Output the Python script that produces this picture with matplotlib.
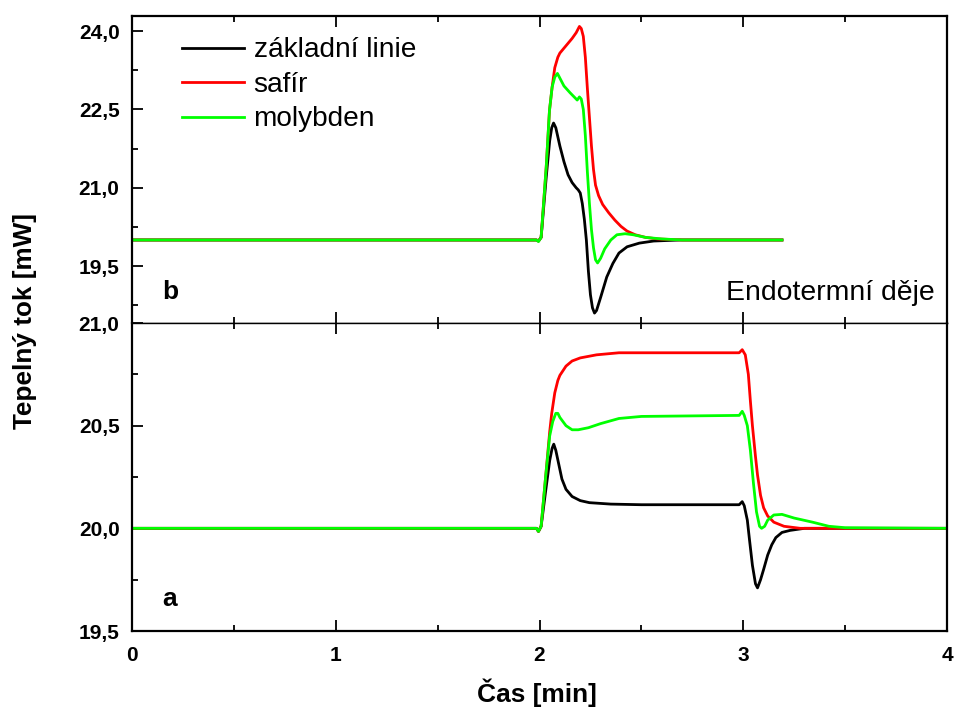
"""Two-panel DSC trace: heat flow for baseline, sapphire and molybdenum."""

import matplotlib

matplotlib.use("Agg")
import matplotlib.pyplot as plt
from matplotlib.ticker import FuncFormatter, MultipleLocator

plt.rcParams["font.family"] = ["Liberation Sans", "DejaVu Sans"]

BLACK = "#000000"
RED = "#ff0000"
GREEN = "#00ff00"

# panel b (top): endothermic events, time [min] / heat flow [mW]
b_base_t = [0, 1.985, 1.995, 2.008, 2.033, 2.05, 2.06, 2.069, 2.08, 2.1, 2.12, 2.14,
            2.16, 2.18, 2.19, 2.2, 2.21, 2.22, 2.23, 2.24, 2.25, 2.26, 2.27, 2.28,
            2.3, 2.33, 2.36, 2.39, 2.43, 2.49, 2.56, 2.69, 3.19]
b_base_v = [20.0, 20.0, 19.98, 20.05, 21.2, 21.9, 22.15, 22.24, 22.15, 21.8, 21.5, 21.25,
            21.1, 21.0, 20.96, 20.9, 20.7, 20.4, 20.0, 19.4, 18.95, 18.7, 18.6, 18.65,
            18.9, 19.29, 19.55, 19.75, 19.87, 19.94, 19.98, 20.0, 20.0]

b_saf_t = [0, 1.985, 1.995, 2.008, 2.033, 2.049, 2.062, 2.075, 2.09, 2.1, 2.13, 2.16,
           2.18, 2.196, 2.205, 2.215, 2.225, 2.235, 2.245, 2.255, 2.265, 2.275, 2.29,
           2.31, 2.34, 2.37, 2.4, 2.43, 2.47, 2.52, 2.58, 2.7, 3.19]
b_saf_v = [20.0, 20.0, 19.98, 20.05, 21.4, 22.48, 22.93, 23.3, 23.5, 23.58, 23.72, 23.86,
           23.97, 24.09, 24.05, 23.9, 23.5, 22.9, 22.35, 21.8, 21.35, 21.05, 20.85,
           20.68, 20.52, 20.38, 20.26, 20.17, 20.1, 20.05, 20.02, 20.0, 20.0]

b_mo_t = [0, 1.985, 1.995, 2.008, 2.033, 2.049, 2.062, 2.075, 2.088, 2.1, 2.12, 2.15,
          2.17, 2.185, 2.196, 2.205, 2.215, 2.225, 2.235, 2.245, 2.255, 2.265, 2.275,
          2.285, 2.3, 2.32, 2.35, 2.38, 2.42, 2.46, 2.52, 2.6, 2.7, 3.19]
b_mo_v = [20.0, 20.0, 19.97, 20.05, 21.4, 22.48, 22.93, 23.12, 23.19, 23.1, 22.95, 22.82,
          22.74, 22.68, 22.74, 22.7, 22.5, 22.0, 21.3, 20.7, 20.2, 19.85, 19.62,
          19.56, 19.65, 19.83, 20.0, 20.1, 20.12, 20.1, 20.05, 20.02, 20.0, 20.0]

# panel a (bottom)
a_base_t = [0, 1.985, 1.995, 2.008, 2.03, 2.05, 2.062, 2.07, 2.08, 2.095, 2.11, 2.13,
            2.16, 2.2, 2.245, 2.35, 2.5, 2.98, 2.995, 3.005, 3.02, 3.03, 3.045, 3.06,
            3.07, 3.085, 3.1, 3.12, 3.14, 3.16, 3.19, 3.23, 3.3, 4.0]
a_base_v = [20.0, 20.0, 19.985, 20.01, 20.18, 20.33, 20.39, 20.41, 20.38, 20.31, 20.24, 20.19,
            20.155, 20.135, 20.125, 20.118, 20.115, 20.115, 20.13, 20.11, 20.04, 19.95, 19.82, 19.73,
            19.71, 19.75, 19.8, 19.87, 19.92, 19.955, 19.98, 19.99, 20.0, 20.0]

a_saf_t = [0, 1.985, 1.995, 2.008, 2.03, 2.05, 2.06, 2.075, 2.09, 2.1, 2.13, 2.16,
           2.2, 2.28, 2.39, 2.98, 2.995, 3.01, 3.025, 3.035, 3.045, 3.06, 3.07,
           3.085, 3.1, 3.12, 3.15, 3.2, 3.28, 4.0]
a_saf_v = [20.0, 20.0, 19.985, 20.01, 20.25, 20.47, 20.56, 20.66, 20.72, 20.745, 20.79, 20.815,
           20.83, 20.845, 20.855, 20.855, 20.87, 20.845, 20.75, 20.62, 20.5, 20.35, 20.26,
           20.16, 20.1, 20.06, 20.03, 20.01, 20.0, 20.0]

a_mo_t = [0, 1.985, 1.995, 2.008, 2.03, 2.05, 2.065, 2.08, 2.09, 2.1, 2.13, 2.16,
          2.19, 2.24, 2.3, 2.39, 2.5, 2.98, 2.995, 3.005, 3.02, 3.035, 3.05, 3.065,
          3.08, 3.09, 3.105, 3.12, 3.15, 3.19, 3.25, 3.34, 3.42, 3.5, 4.0]
a_mo_v = [20.0, 20.0, 19.985, 20.01, 20.25, 20.45, 20.52, 20.56, 20.56, 20.54, 20.5, 20.48,
          20.48, 20.49, 20.51, 20.535, 20.545, 20.55, 20.57, 20.55, 20.5, 20.38, 20.22, 20.08,
          20.01, 20.0, 20.01, 20.04, 20.065, 20.068, 20.05, 20.03, 20.01, 20.003, 20.0]

labels = ["základní linie", "safír", "molybden"]


def comma(v, _pos):
    return f"{v:.1f}".replace(".", ",")


def style(ax, major, minor):
    ax.set_xlim(0, 4)
    ax.xaxis.set_major_locator(MultipleLocator(1))
    ax.xaxis.set_minor_locator(MultipleLocator(0.5))
    ax.yaxis.set_major_locator(MultipleLocator(major))
    ax.yaxis.set_minor_locator(MultipleLocator(minor))
    ax.yaxis.set_major_formatter(FuncFormatter(comma))
    ax.tick_params(which="both", direction="in", top=True, right=False, width=1.3)
    ax.tick_params(which="major", length=8)
    ax.tick_params(which="minor", length=4)
    ax.tick_params(axis="y", pad=9)
    ax.tick_params(labelsize=15)
    for lab in ax.get_yticklabels() + ax.get_xticklabels():
        lab.set_fontweight("bold")
    for side in ("left", "bottom", "right", "top"):
        ax.spines[side].set_linewidth(1.6)


fig = plt.figure(figsize=(9.55, 7.11), dpi=100)
left, width = 132 / 955, 815 / 955
ax_b = fig.add_axes([left, 1 - 323 / 711, width, 307 / 711])
ax_a = fig.add_axes([left, 1 - 631 / 711, width, 308 / 711])

lw = 2.0
ax_b.plot(b_base_t, b_base_v, color=BLACK, lw=lw, label=labels[0])
ax_b.plot(b_saf_t, b_saf_v, color=RED, lw=lw, label=labels[1])
ax_b.plot(b_mo_t, b_mo_v, color=GREEN, lw=lw, label=labels[2])
ax_b.set_ylim(18.41, 24.29)
style(ax_b, 1.5, 0.75)
ax_b.tick_params(labelbottom=False)
ax_b.spines["bottom"].set_linewidth(1.0)
ax_b.text(0.037, 0.078, "b", transform=ax_b.transAxes, fontsize=19, fontweight="bold",
          ha="left", va="baseline")
ax_b.text(0.985, 0.075, "Endotermní děje", transform=ax_b.transAxes, fontsize=20.4,
          ha="right", va="baseline")
ax_b.legend(loc="upper left", bbox_to_anchor=(0.0613, 0.93), frameon=False,
            fontsize=20.2, handlelength=2.2, handletextpad=0.35, labelspacing=0.3,
            borderpad=0, borderaxespad=0)

ax_a.plot(a_base_t, a_base_v, color=BLACK, lw=lw)
ax_a.plot(a_saf_t, a_saf_v, color=RED, lw=lw)
ax_a.plot(a_mo_t, a_mo_v, color=GREEN, lw=lw)
ax_a.set_ylim(19.5, 21.0)
style(ax_a, 0.5, 0.25)
ax_a.spines["top"].set_linewidth(1.0)
ax_a.xaxis.set_major_formatter(FuncFormatter(lambda v, _p: f"{v:.0f}"))
for lab in ax_a.get_xticklabels():
    lab.set_fontweight("bold")
ax_a.tick_params(axis="x", pad=11)
ax_a.text(0.037, 0.081, "a", transform=ax_a.transAxes, fontsize=19, fontweight="bold",
          ha="left", va="baseline")

fig.text(25 / 955, 1 - 321 / 711, "Tepelný tok [mW]", rotation=90, fontsize=18.8,
         fontweight="bold", ha="center", va="center")
fig.text(537 / 955, 1 - 693 / 711, "Čas [min]", fontsize=18.9, fontweight="bold",
         ha="center", va="center")

fig.savefig("out.png", dpi=100)
